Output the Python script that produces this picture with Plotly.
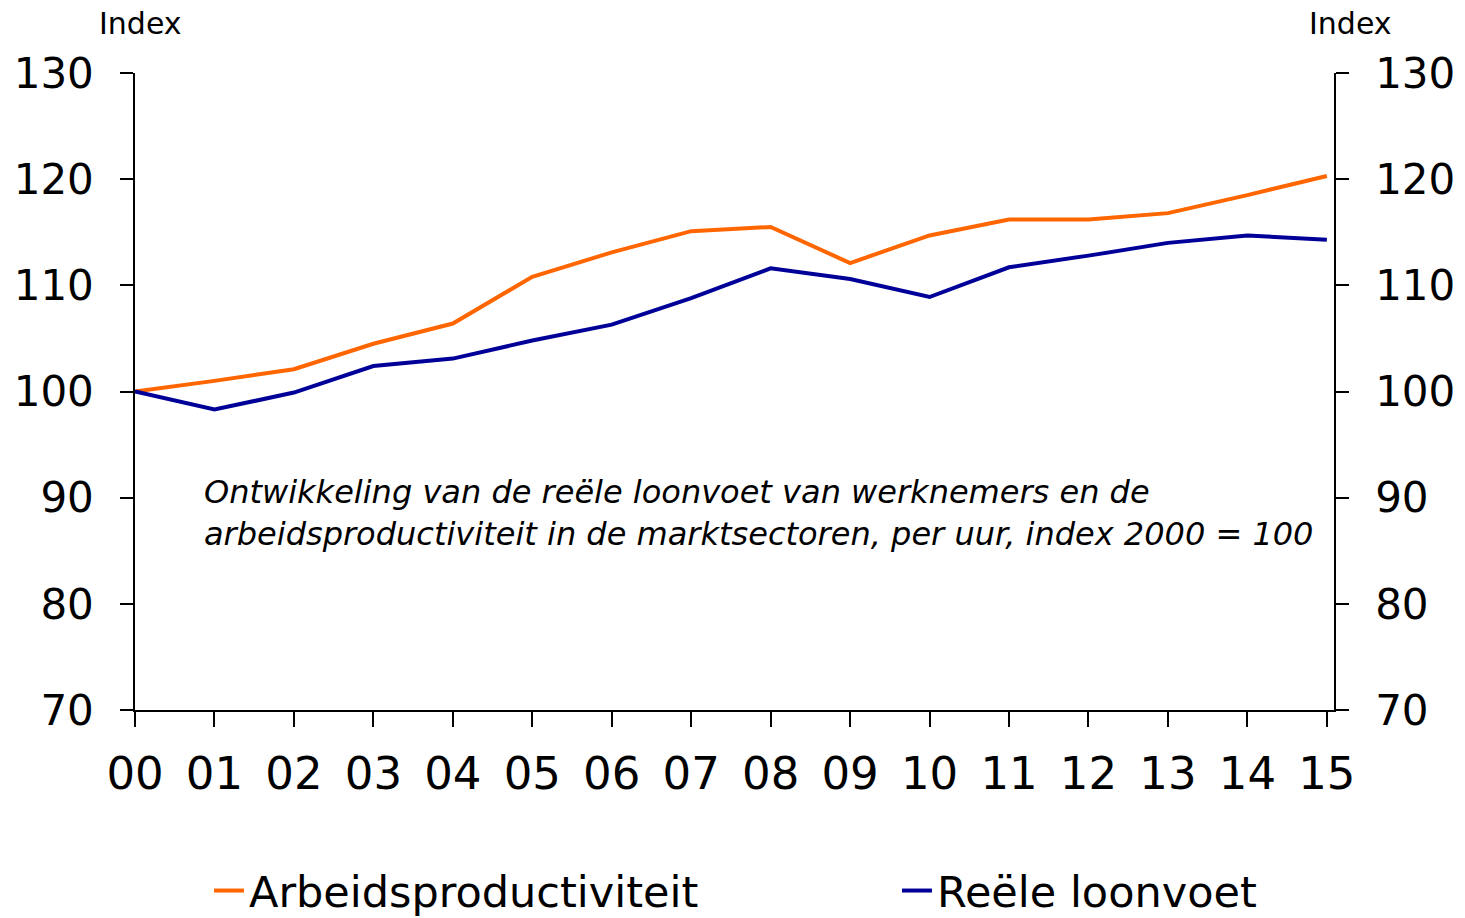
import plotly.graph_objects as go

years = list(range(2000, 2016))
year_labels = ["00", "01", "02", "03", "04", "05", "06", "07", "08", "09", "10", "11", "12", "13", "14", "15"]
arbeidsproductiviteit = [100.0, 101.0, 102.1, 104.5, 106.4, 110.8, 113.1, 115.1, 115.5, 112.1,
                         114.7, 116.2, 116.2, 116.8, 118.5, 120.3]
reele_loonvoet = [100.0, 98.3, 99.9, 102.4, 103.1, 104.8, 106.3, 108.8, 111.6, 110.6,
                  108.9, 111.7, 112.8, 114.0, 114.7, 114.3]
y_ticks = [70, 80, 90, 100, 110, 120, 130]

ORANGE = "#FF6600"
BLUE = "#000099"
FONT = "DejaVu Sans"

fig = go.Figure()
fig.add_trace(go.Scatter(x=years, y=arbeidsproductiviteit, mode="lines",
                         name="Arbeidsproductiviteit", line=dict(color=ORANGE, width=4),
                         legend="legend"))
fig.add_trace(go.Scatter(x=years, y=reele_loonvoet, mode="lines",
                         name="Reële loonvoet", line=dict(color=BLUE, width=4),
                         legend="legend2"))
# invisible trace to activate the right axis
fig.add_trace(go.Scatter(x=years, y=reele_loonvoet, mode="lines", yaxis="y2",
                         line=dict(width=0), showlegend=False, hoverinfo="skip", opacity=0))

axis_common = dict(range=[70, 130], tickvals=y_ticks, ticks="outside", ticklen=13,
                   tickwidth=1.5, tickcolor="black", showline=True, linecolor="black",
                   linewidth=1.5, showgrid=False, zeroline=False, ticklabelstandoff=18,
                   tickfont=dict(family=FONT, size=42, color="black"))

legend_common = dict(orientation="h", y=-0.2835, xanchor="left", yanchor="middle",
                     font=dict(family=FONT, size=43, color="black"),
                     bgcolor="rgba(0,0,0,0)")

fig.update_layout(
    width=1465, height=918,
    margin=dict(l=135, r=131, t=73, b=208, autoexpand=False),
    paper_bgcolor="white", plot_bgcolor="white",
    xaxis=dict(range=[2000, 2015.09], tickvals=years, ticktext=year_labels,
               ticks="outside", ticklen=15, tickwidth=1.5, tickcolor="black",
               showline=True, linecolor="black", linewidth=1.5, showgrid=False,
               zeroline=False, ticklabelstandoff=8,
               tickfont=dict(family=FONT, size=45, color="black")),
    yaxis=dict(side="left", **axis_common),
    yaxis2=dict(side="right", overlaying="y", **axis_common),
    showlegend=True,
    legend=dict(x=0.0617, **legend_common),
    legend2=dict(x=0.6355, **legend_common),
    annotations=[
        dict(text="Index", xref="paper", yref="paper", x=0.005, y=1.0, yshift=50,
             showarrow=False, font=dict(family=FONT, size=30, color="black"),
             xanchor="center", yanchor="middle"),
        dict(text="Index", xref="paper", yref="paper", x=1.014, y=1.0, yshift=50,
             showarrow=False, font=dict(family=FONT, size=30, color="black"),
             xanchor="center", yanchor="middle"),
        dict(text="<i>Ontwikkeling van de reële loonvoet van werknemers en de<br>"
                  "arbeidsproductiviteit in de marktsectoren, per uur, index 2000 = 100</i>",
             xref="paper", yref="y", x=0.056, y=88.6, showarrow=False, align="left",
             xanchor="left", yanchor="middle",
             font=dict(family=FONT, size=32, color="black")),
    ],
)

fig.write_html("out.html", config={"displayModeBar": False},
               post_script="document.body.style.margin='0';document.body.style.overflow='hidden';")
